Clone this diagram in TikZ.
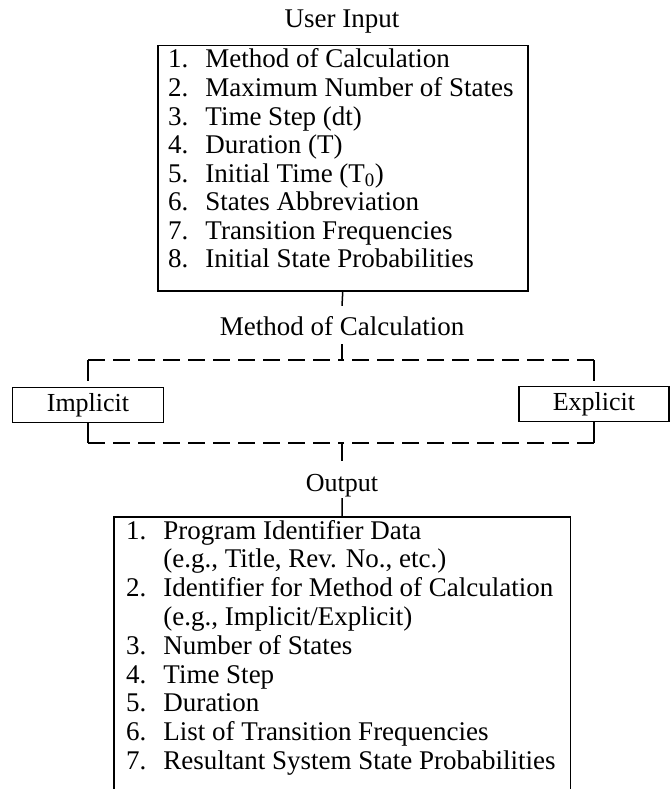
\documentclass[tikz,border=0pt]{standalone}
\usepackage{fontspec}
\setmainfont{Liberation Serif}
\begin{document}
\begin{tikzpicture}[x=1pt,y=-1pt,
  txt/.style={font=\fontsize{27}{28.57}\selectfont},
  lbl/.style={font=\fontsize{27}{28.57}\selectfont, inner sep=0pt, text height=18pt, text depth=0pt, anchor=base},
  boxline/.style={line width=1.5pt},
  choice/.style={draw, line width=1.5pt, minimum height=35pt, inner sep=0pt, font=\fontsize{26}{28.57}\selectfont},
  dashline/.style={line width=1.7pt, dash pattern=on 17pt off 8pt},
  dashvert/.style={line width=1.7pt, dash pattern=on 21pt off 20pt},
  tick/.style={line width=1.5pt}]
\useasboundingbox (0,0) rectangle (670,789);

% User input
\node[lbl] (ui) at (342,28) {User Input};
\node[draw, boxline, minimum width=370pt, minimum height=245pt, inner sep=0pt, anchor=north west] (inbox) at (157,45) {};
\node[txt, anchor=base west, inner sep=0pt] (inlist) at (168,68) {%
\begin{tabular}[t]{@{}l@{\hspace{17pt}}l@{}}
1. & Method of Calculation\\
2. & Maximum Number of States\\
3. & Time Step (dt)\\
4. & Duration (T)\\
5. & Initial Time (T\textsubscript{0})\\
6. & States Abbreviation\\
7. & Transition Frequencies\\
8. & Initial State Probabilities
\end{tabular}};

% Method of calculation
\node[lbl] (mc) at (342,335) {Method of Calculation};
\draw[tick] (inbox.south) -- ([yshift=11pt]mc.north);

\node[choice, minimum width=151pt] (impl) at (88,405) {Implicit};
\node[choice, minimum width=150pt] (expl) at (594,404) {Explicit};

\coordinate (ctop) at (342,360);
\coordinate (cbot) at (342,443);
\coordinate (cTL) at (impl.north |- ctop);
\coordinate (cTR) at (expl.north |- ctop);
\coordinate (cBL) at (impl.south |- cbot);
\coordinate (cBR) at (expl.south |- cbot);

\draw[tick] ([yshift=-9pt]mc.south) -- (ctop);
\draw[dashline] (cTL) -- (ctop);
\draw[dashline] (cTR) -- (ctop);
\draw[dashvert] (cTL) -- (impl.north);
\draw[dashvert] (cTR) -- (expl.north);
\draw[dashline] (cBL) -- (cbot);
\draw[dashline] (cBR) -- (cbot);
\draw[dashvert] (cBL) -- (impl.south);
\draw[dashvert] (cBR) -- (expl.south);

% Output
\node[lbl, font=\fontsize{26}{28.57}\selectfont] (out) at (342,491) {Output};
\draw[tick] (cbot) -- ([yshift=12pt]out.north);

\node[minimum width=456pt, minimum height=272pt, inner sep=0pt, anchor=north west] (outbox) at (114,517) {};
\draw[boxline] (outbox.south west) -- (outbox.north west) -- (outbox.north east) -- (outbox.south east);
\draw[tick] ([yshift=-7pt]out.south) -- (outbox.north);

\node[txt, anchor=base west, inner sep=0pt, font=\fontsize{27}{28.8}\selectfont] (outlist) at (126,539) {%
\begin{tabular}[t]{@{}l@{\hspace{17pt}}l@{}}
1. & Program Identifier Data\\
   & (e.g., Title, Rev. No., etc.)\\
2. & Identifier for Method of Calculation\\
   & (e.g., Implicit/Explicit)\\
3. & Number of States\\
4. & Time Step\\
5. & Duration\\
6. & List of Transition Frequencies\\
7. & Resultant System State Probabilities
\end{tabular}};
\end{tikzpicture}
\end{document}
